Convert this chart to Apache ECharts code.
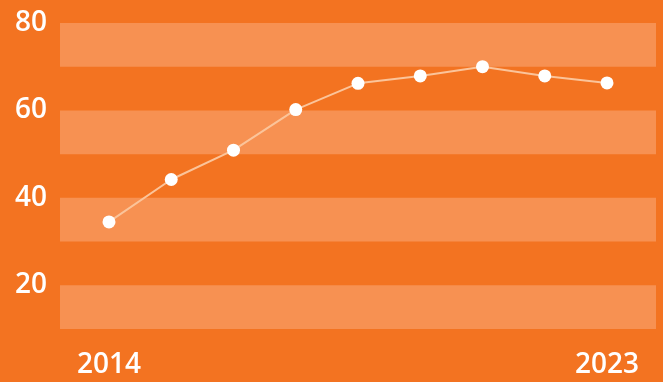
<!DOCTYPE html>
<html>
<head>
<meta charset="utf-8">
<script src="https://cdn.jsdelivr.net/npm/echarts@6/dist/echarts.min.js"></script>
<style>
html,body{margin:0;padding:0;background:#F37321;}
#c{width:663px;height:382px;}
</style>
</head>
<body>
<div id="c"></div>
<script>
var pointLabels = ['2014','','','','','','','','2023'];
var values = [34.5, 44.2, 50.9, 60.2, 66.2, 67.9, 70.0, 67.9, 66.3];
var yTicks = [20, 40, 60, 80];

var chart = echarts.init(document.getElementById('c'));
var fontFam = '"Open Sans", sans-serif';
chart.setOption({
  backgroundColor: '#F37321',
  animation: false,
  grid: {left: 60, right: 7, top: 23, bottom: 53},
  xAxis: {
    type: 'value',
    min: -0.787, max: 8.787,
    axisLine: {show: false}, axisTick: {show: false}, splitLine: {show: false},
    axisLabel: {
      customValues: [0, 8],
      formatter: function (v) { return pointLabels[Math.round(v)]; },
      color: '#fff', fontSize: 28, fontWeight: 600, fontFamily: fontFam, margin: 22
    }
  },
  yAxis: {
    type: 'value',
    min: 10, max: 80, interval: 10,
    axisLine: {show: false}, axisTick: {show: false}, splitLine: {show: false},
    splitArea: {show: true, areaStyle: {color: ['#F79152', 'rgba(0,0,0,0)']}},
    axisLabel: {
      customValues: yTicks,
      color: '#fff', fontSize: 28, fontWeight: 600, fontFamily: fontFam, margin: 13
    }
  },
  series: [{
    type: 'line',
    data: values.map(function (v, i) { return [i, v]; }),
    symbol: 'circle', symbolSize: 13,
    lineStyle: {color: '#FBC49A', width: 2},
    itemStyle: {color: '#ffffff'}
  }]
});
</script>
</body>
</html>
